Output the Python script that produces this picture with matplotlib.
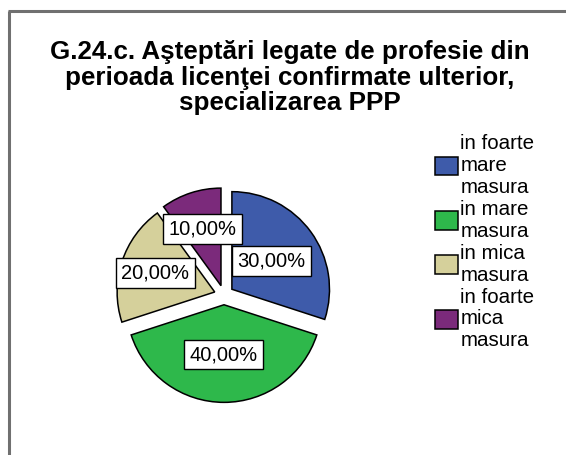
import matplotlib.pyplot as plt
import numpy as np

# survey answers, share of respondents
categories = ["in foarte\nmare\nmasura", "in mare\nmasura", "in mica\nmasura", "in foarte\nmica\nmasura"]
shares = [30.0, 40.0, 20.0, 10.0]
colors = ["#3e5baa", "#2eb84b", "#d5d09b", "#7b2a7b"]
title = "G.24.c. Aşteptări legate de profesie din\nperioada licenţei confirmate ulterior,\nspecializarea PPP"

# how far out each percent box sits (fraction of radius)
label_dist = [0.50, 0.51, 0.64, 0.61]

plt.rcParams["font.family"] = ["Liberation Sans", "DejaVu Sans"]

W, H = 566, 455
fig = plt.figure(figsize=(W / 100, H / 100), dpi=100)

# gray frame on the left and top
fig.add_artist(plt.Line2D([9 / W, 9 / W], [0, 1 - 11 / H], color="#707070", lw=2.2,
                          transform=fig.transFigure, solid_capstyle="butt"))
fig.add_artist(plt.Line2D([8 / W, 1], [1 - 11 / H, 1 - 11 / H], color="#707070", lw=2.2,
                          transform=fig.transFigure, solid_capstyle="butt"))

fig.text(290 / W, 1 - 40 / H, title, ha="center", va="top", fontsize=18.7,
         fontweight="bold", linespacing=1.08)

# pie axes: square box centred on the pie centre
cx, cy, r = 224, 295, 100
half = 122
ax = fig.add_axes([(cx - half) / W, (H - cy - half) / H, 2 * half / W, 2 * half / H])
ax.set_xlim(-half / r, half / r)
ax.set_ylim(-half / r, half / r)
ax.axis("off")

wedges, _ = ax.pie(shares, colors=colors, startangle=90, counterclock=False,
                   explode=[0.1] * len(shares), radius=1,
                   wedgeprops=dict(edgecolor="black", linewidth=1.1))

for w, val, d in zip(wedges, shares, label_dist):
    mid = np.deg2rad((w.theta1 + w.theta2) / 2)
    x = w.center[0] + d * np.cos(mid)
    y = w.center[1] + d * np.sin(mid)
    ax.text(x, y, f"{val:.2f}%".replace(".", ","), ha="center", va="center", fontsize=14.5,
            bbox=dict(boxstyle="square,pad=0.27", fc="white", ec="black", lw=1))

leg = fig.legend(wedges, categories, loc="upper left", bbox_to_anchor=(435 / W, 1 - 134 / H),
                 frameon=False, fontsize=14.8, handlelength=1.13, handleheight=1.0,
                 handletextpad=0.1, labelspacing=0.15, borderpad=0, borderaxespad=0)
for t in leg.get_texts():
    t.set_linespacing(1.19)

fig.savefig("out.png", dpi=100)
